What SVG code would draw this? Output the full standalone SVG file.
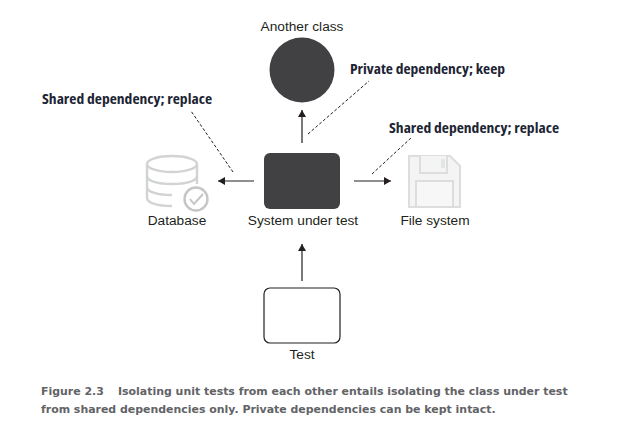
<svg xmlns="http://www.w3.org/2000/svg" width="639" height="445" viewBox="0 0 639 445">
<style>
.l{font-family:"Liberation Sans",Arial,sans-serif;font-size:13.7px;fill:#231f20;text-anchor:middle}
.n{font-family:"Open Sans","Noto Sans",sans-serif;font-weight:700;font-size:14.5px;fill:#1d2433;font-stretch:condensed}
.c{font-family:"DejaVu Sans",sans-serif;font-weight:700;font-size:10.95px;fill:#626366}
.a{stroke:#231f20;stroke-width:1.2;fill:none;marker-end:url(#h)}
.d{stroke:#231f20;stroke-width:1;fill:none;stroke-dasharray:3 2}
.i{fill:none;stroke:#d1d3d4;stroke-width:2.4}
</style>
<defs><marker id="h" markerUnits="userSpaceOnUse" markerWidth="8" markerHeight="8" refX="7" refY="4" orient="auto"><path d="M0 0L7 4L0 8Z" fill="#231f20"/></marker></defs>
<rect width="639" height="445" fill="#fff"/>
<g id="another-class"><circle cx="302" cy="70" r="32.5" fill="#414042"/><text class="l" x="302" y="31">Another class</text></g>
<g id="system-under-test"><rect x="264" y="153" width="76" height="56" rx="6" fill="#414042"/><text class="l" x="303" y="225">System under test</text></g>
<g id="database">
<ellipse cx="172" cy="164" rx="25" ry="8" class="i"/>
<path class="i" d="M147 164V198C147 203 158 206 172 206M197 164V184M147 176C147 181 158 184 172 184S197 181 197 176M147 187C147 192 158 195 172 195"/>
<circle cx="196" cy="199" r="11.5" fill="#fff" stroke="#c4c6c8" stroke-width="2.4"/>
<path d="M190 199L194 204L203 194" fill="none" stroke="#c4c6c8" stroke-width="2"/>
<text class="l" x="177" y="225">Database</text></g>
<g id="file-system">
<path d="M409 156H450L460 166V207H409Z" fill="#f4f4f5" stroke="#dcddde" stroke-width="2"/>
<path d="M420 156V173H447V156" fill="#f4f4f5" stroke="#dcddde" stroke-width="2"/>
<rect x="441" y="159" width="4" height="9" fill="#e4e5e6"/>
<rect x="416" y="181" width="37" height="26" fill="#f7f7f7" stroke="#dcddde" stroke-width="2"/>
<text class="l" x="435" y="225">File system</text></g>
<g id="test"><rect x="264" y="288" width="76" height="55" rx="6" fill="#fff" stroke="#231f20" stroke-width="1.2"/><text class="l" x="302" y="359">Test</text></g>
<g id="connectors">
<path class="a" d="M302 143V110"/>
<path class="a" d="M254 181H218"/>
<path class="a" d="M354 181H391"/>
<path class="a" d="M302 281V244"/>
<path class="d" d="M308 134L369 81"/>
<path class="d" d="M233 172L191 111"/>
<path class="d" d="M372 174L411 138"/>
</g>
<text class="n" x="350" y="74" textLength="155" lengthAdjust="spacingAndGlyphs">Private dependency; keep</text>
<text class="n" x="42" y="104" textLength="170" lengthAdjust="spacingAndGlyphs">Shared dependency; replace</text>
<text class="n" x="389" y="133" textLength="170" lengthAdjust="spacingAndGlyphs">Shared dependency; replace</text>
<text class="c" x="41" y="395">Figure 2.3<tspan x="118">Isolating unit tests from each other entails isolating the class under test</tspan></text>
<text class="c" x="41" y="413">from shared dependencies only. Private dependencies can be kept intact.</text>
</svg>
